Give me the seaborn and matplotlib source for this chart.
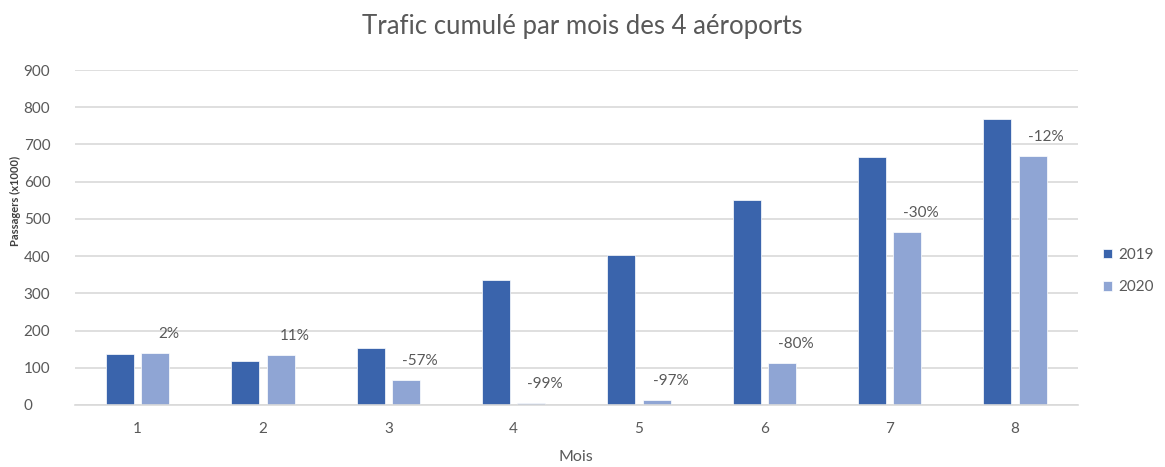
import pandas as pd
import matplotlib.pyplot as plt
import seaborn as sns

# Données (passagers x1000, cumul des 4 aéroports)
mois = [1, 2, 3, 4, 5, 6, 7, 8]
trafic_2019 = [136, 119, 153, 337, 403, 551, 666, 768]
trafic_2020 = [140, 134, 66, 5, 13, 112, 464, 669]
variation = ["2%", "11%", "-57%", "-99%", "-97%", "-80%", "-30%", "-12%"]

df = pd.DataFrame({
    "Mois": mois * 2,
    "Passagers": trafic_2019 + trafic_2020,
    "Année": ["2019"] * len(mois) + ["2020"] * len(mois),
})

sns.set_style("white")
plt.rcParams['font.family'] = ['Lato', 'DejaVu Sans']
gris = "#595959"

fig = plt.figure(figsize=(11.65, 4.67), dpi=100)
ax = fig.add_axes([0.0644, 0.1328, 0.8606, 0.7172])

sns.barplot(data=df, x="Mois", y="Passagers", hue="Année",
            palette=["#3A64AC", "#8FA5D4"], saturation=1, width=0.565, gap=0.21,
            edgecolor="white", linewidth=0.5, ax=ax)

# étiquettes de variation au-dessus des barres 2020
for i, (v, txt) in enumerate(zip(trafic_2020, variation)):
    ax.text(i + 0.25, v + 52, txt, ha="center", va="center",
            fontsize=11, color=gris)

ax.set_ylim(0, 900)
ax.set_xlim(-0.5, 7.5)
ax.set_yticks(range(0, 1000, 100))
ax.grid(axis="y", color="#D9D9D9", linewidth=1.2)
ax.set_axisbelow(True)
for s in ["top", "right", "left"]:
    ax.spines[s].set_visible(False)
ax.spines["bottom"].set_color("#D9D9D9")
ax.spines["bottom"].set_linewidth(1.2)
ax.tick_params(axis="both", length=0, labelsize=11, labelcolor=gris)
ax.tick_params(axis="x", pad=12)
ax.tick_params(axis="y", pad=37)
for lab in ax.get_yticklabels():
    lab.set_horizontalalignment("left")

ax.set_xlabel("Mois", fontsize=11.5, color=gris, labelpad=10)
ax.set_ylabel("")
fig.text(0.013, 0.57, "Passagers (x1000)", rotation=90, ha="center", va="center",
         fontsize=8, fontweight="bold", color="#404040")

fig.suptitle("Trafic cumulé par mois des 4 aéroports", fontsize=18.5,
             color=gris, y=0.97)

ax.legend(loc="center left", bbox_to_anchor=(1.025, 0.40), frameon=False,
          fontsize=11, labelcolor=gris, handlelength=0.6, handleheight=0.6,
          handletextpad=0.4, labelspacing=1.2, borderaxespad=0, borderpad=0)

fig.savefig("out.png", dpi=100)
